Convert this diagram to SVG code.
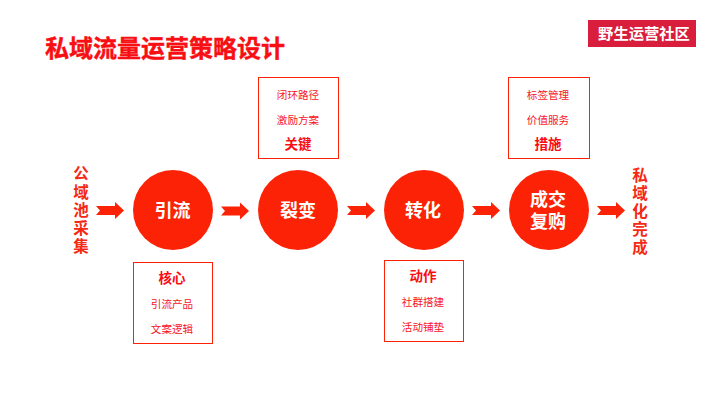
<svg xmlns="http://www.w3.org/2000/svg" width="720" height="405" viewBox="0 0 720 405">
<defs><path id="arrow" d="M0-4.500H19V-8.500L28 0 19 8.500V4.500H0L4 0Z"/></defs>
<style>
text{font-family:"Liberation Sans","Noto Sans CJK SC",sans-serif;text-anchor:middle}
.c{fill:#fb2205}
.b{fill:#fff;stroke:#fb2205;stroke-width:1}
.t{fill:#fff;font-size:18px;font-weight:700}
.s{fill:#f8141e;font-size:10.600px}
.k{fill:#f90d12;font-size:13.500px;font-weight:700}
.v{fill:#f42a14;font-size:15.500px;font-weight:700}
</style>
<rect width="720" height="405" fill="#fff"/>
<text id="title" x="165" y="57" font-size="24" font-weight="700" fill="#f80f14" stroke="#f80f14" stroke-width=".4">私域流量运营策略设计</text>
<g id="logo"><rect x="588" y="20" width="108" height="27" fill="#d81e3c"/><text x="644" y="38.500" font-size="15.300" font-weight="700" fill="#fff">野生运营社区</text></g>
<g id="source" class="v"><text x="81" y="179">公</text><text x="81" y="197.500">域</text><text x="81" y="216">池</text><text x="81" y="234">采</text><text x="81" y="252">集</text></g>
<g id="end" class="v"><text x="640" y="181">私</text><text x="640" y="199">域</text><text x="640" y="217">化</text><text x="640" y="235">完</text><text x="640" y="253">成</text></g>
<g id="connectors" fill="#fb2205">
<use href="#arrow" x="96" y="210.500"/><use href="#arrow" x="221" y="211"/><use href="#arrow" x="347" y="210.500"/><use href="#arrow" x="472" y="210.500"/><use href="#arrow" x="597" y="210.500"/>
</g>
<g id="n1"><circle class="c" cx="173" cy="210" r="40"/><text class="t" x="172.500" y="216.500">引流</text></g>
<g id="n2"><circle class="c" cx="298" cy="210" r="40"/><text class="t" x="298" y="216.500">裂变</text></g>
<g id="n3"><circle class="c" cx="424" cy="210" r="40"/><text class="t" x="423" y="216.500">转化</text></g>
<g id="n4"><circle class="c" cx="549" cy="210" r="40"/><text class="t" x="548" y="206">成交</text><text class="t" x="548" y="228">复购</text></g>
<g id="box1"><rect class="b" x="133.500" y="262.500" width="79" height="81"/><text class="k" x="172" y="283">核心</text><text class="s" x="172" y="308">引流产品</text><text class="s" x="172" y="333">文案逻辑</text></g>
<g id="box2"><rect class="b" x="258.500" y="77.500" width="80" height="81"/><text class="k" x="298" y="149">关键</text><text class="s" x="298" y="99">闭环路径</text><text class="s" x="298" y="124">激励方案</text></g>
<g id="box3"><rect class="b" x="384.500" y="260.500" width="79" height="81"/><text class="k" x="423" y="281">动作</text><text class="s" x="423" y="306">社群搭建</text><text class="s" x="423" y="331">活动铺垫</text></g>
<g id="box4"><rect class="b" x="508.500" y="77.500" width="81" height="81"/><text class="k" x="548" y="149">措施</text><text class="s" x="548" y="99">标签管理</text><text class="s" x="548" y="124">价值服务</text></g>
</svg>
